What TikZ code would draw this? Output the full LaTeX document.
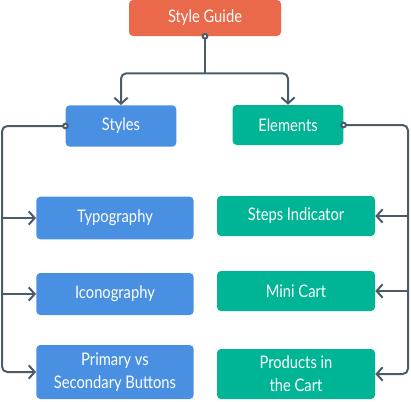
\documentclass[tikz,border=0pt]{standalone}
\usepackage{fontspec}
\setmainfont{Lato}[FakeStretch=0.85]
\usetikzlibrary{arrows.meta, positioning}
\definecolor{guidered}{HTML}{E9694A}
\definecolor{styleblue}{HTML}{4A90E2}
\definecolor{elemgreen}{HTML}{00B595}
\definecolor{wiregray}{HTML}{4B5B67}

\begin{document}
\begin{tikzpicture}[x=0.75pt, y=-0.75pt,
    box/.style={rounded corners=3pt, text=white, align=center, inner sep=0pt,
      font=\fontsize{13}{17.5}\selectfont},
    link/.style={draw=wiregray, line width=1.5pt, rounded corners=4pt},
    tip/.style={-{Straight Barb[length=4.5pt, width=10pt, line width=1.5pt]}},
    dottip/.style={{Circle[open, length=5pt, width=5pt, fill=white]}-, shorten <=-2.5pt},
    dotarrow/.style={{Circle[open, length=5pt, width=5pt, fill=white]}-{Straight Barb[length=4.5pt, width=10pt, line width=1.5pt]},
      shorten <=-2.5pt}]
  \useasboundingbox (0,0) rectangle (411,401);

  % top level
  \node[box, fill=guidered, minimum width=114pt, minimum height=27pt] (guide) at (205,18) {Style Guide};
  \node[box, fill=styleblue, minimum width=83pt, minimum height=31pt] (styles) at (121,126) {Styles};
  \node[box, fill=elemgreen, minimum width=83pt, minimum height=30pt] (elements) at (288,125) {Elements};

  % styles column
  \node[box, fill=styleblue, minimum width=118pt, minimum height=32pt] (typo) at (115,218) {Typography};
  \node[box, fill=styleblue, minimum width=118pt, minimum height=31.5pt] (icon) at (115,294) {Iconography};
  \node[box, fill=styleblue, minimum width=118pt, minimum height=40.5pt] (prim) at (115,372) {Primary vs\\Secondary Buttons};

  % elements column
  \node[box, fill=elemgreen, minimum width=118.5pt, minimum height=30pt] (steps) at (296,216) {Steps Indicator};
  \node[box, fill=elemgreen, minimum width=118.5pt, minimum height=30pt] (cart) at (296,291) {Mini Cart};
  \node[box, fill=elemgreen, minimum width=118.5pt, minimum height=37.5pt] (prods) at (296,374) {Products in\\the Cart};

  \coordinate (lrail) at (2,0);
  \coordinate (rrail) at (408,0);

  \draw[link, tip] (guide.south) ++(0,37) coordinate (split) -| (styles.north);
  \draw[link, tip] (split) -| (elements.north);
  \draw[link, dottip] (guide.south) -- (split);

  \draw[link, dotarrow] (styles.west) -- (lrail |- styles.west) |- (prim.west);
  \draw[link, tip] (lrail |- typo.west) -- (typo.west);
  \draw[link, tip] (lrail |- icon.west) -- (icon.west);

  \draw[link, dotarrow] (elements.east) -- (rrail |- elements.east) |- (prods.east);
  \draw[link, tip] (rrail |- steps.east) -- (steps.east);
  \draw[link, tip] (rrail |- cart.east) -- (cart.east);
\end{tikzpicture}
\end{document}
